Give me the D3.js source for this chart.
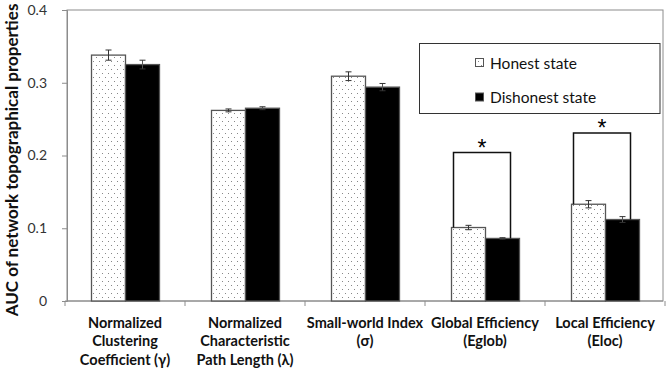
<!DOCTYPE html>
<html>
<head>
<meta charset="utf-8">
<script src="https://cdn.jsdelivr.net/npm/d3@7/dist/d3.min.js"></script>
<style>
  html, body { margin: 0; padding: 0; background: #fff; }
  svg { display: block; }
</style>
</head>
<body>
<svg id="chart"></svg>
<script>
// categories (multi-line labels)
const categories = [
  ["Normalized", "Clustering", "Coefficient (\u03b3)"],
  ["Normalized", "Characteristic", "Path Length (\u03bb)"],
  ["Small-world Index", "(\u03c3)"],
  ["Global Efficiency", "(Eglob)"],
  ["Local Efficiency", "(Eloc)"]
];
const seriesNames = ["Honest state", "Dishonest state"];
const honest = [0.338, 0.262, 0.309, 0.101, 0.133];
const honestErr = [0.007, 0.002, 0.006, 0.003, 0.005];
const dishonest = [0.325, 0.265, 0.294, 0.086, 0.112];
const dishonestErr = [0.006, 0.002, 0.005, 0.001, 0.004];
// significance brackets: category index and bracket height
const sigIdx = [3, 4];
const sigLevel = [0.204, 0.231];
const yTicks = [0, 0.1, 0.2, 0.3, 0.4];

const W = 666, H = 368;
const margin = { left: 67, right: 3, top: 10, bottom: 67 };
const font = "Lato, 'Open Sans', sans-serif";

const svg = d3.select("#chart").attr("width", W).attr("height", H);

const defs = svg.append("defs");
const pat = defs.append("pattern")
  .attr("id", "dots")
  .attr("patternUnits", "userSpaceOnUse")
  .attr("width", 6).attr("height", 8);
pat.append("rect").attr("width", 6).attr("height", 8).attr("fill", "#fff");
pat.append("rect").attr("x", 1).attr("y", 1).attr("width", 1).attr("height", 1).attr("fill", "#888");
pat.append("rect").attr("x", 4).attr("y", 5).attr("width", 1).attr("height", 1).attr("fill", "#888");

const x = d3.scaleBand()
  .domain(d3.range(categories.length))
  .range([margin.left - 2, W - 1])
  .paddingInner(0)
  .paddingOuter(0);

const y = d3.scaleLinear().domain([0, 0.4]).range([H - margin.bottom, margin.top]);

const inner = d3.scaleBand().domain([0, 1]).range([26.5, 94.5]);

const g = svg.append("g");

// plot frame
g.append("rect")
  .attr("x", margin.left).attr("y", y(0.4))
  .attr("width", W - margin.right - margin.left)
  .attr("height", y(0) - y(0.4))
  .attr("fill", "none").attr("stroke", "#8c8c8c").attr("stroke-width", 1);

// y axis
const yAxis = g.append("g")
  .attr("transform", `translate(${margin.left},0)`)
  .call(d3.axisLeft(y).tickValues(yTicks).tickSize(5).tickPadding(15)
    .tickFormat(d => d === 0 ? "0" : d3.format(".1f")(d)));
yAxis.select(".domain").attr("stroke", "#8c8c8c");
yAxis.selectAll(".tick line").attr("stroke", "#8c8c8c");
yAxis.selectAll(".tick text")
  .attr("font-family", font).attr("font-size", 14).attr("fill", "#333");

// x axis (category boundary ticks)
const xAxisG = g.append("g").attr("transform", `translate(0,${y(0)})`);
xAxisG.append("line")
  .attr("x1", margin.left - 2).attr("x2", W - margin.right)
  .attr("stroke", "#8c8c8c");
xAxisG.selectAll("line.tk")
  .data(d3.range(categories.length + 1))
  .join("line").attr("class", "tk")
  .attr("x1", d => d < categories.length ? x(d) : x(d - 1) + x.bandwidth())
  .attr("x2", d => d < categories.length ? x(d) : x(d - 1) + x.bandwidth())
  .attr("y1", 0).attr("y2", 5)
  .attr("stroke", "#8c8c8c");

// category labels
const lab = g.append("g").selectAll("text")
  .data(categories)
  .join("text")
  .attr("text-anchor", "middle")
  .attr("font-family", font).attr("font-weight", "bold")
  .attr("font-size", 14.5).attr("fill", "#111")
  .attr("transform", (d, i) => `translate(${x(i) + x.bandwidth() / 2},${y(0) + 26.5})`);
lab.selectAll("tspan")
  .data(d => d)
  .join("tspan")
  .attr("x", 0)
  .attr("y", (d, i) => i * 18.5)
  .text(d => d);

// bars
const groups = g.append("g").selectAll("g")
  .data(categories.map((c, i) => i))
  .join("g")
  .attr("transform", i => `translate(${x(i)},0)`);

const series = [
  { vals: honest, errs: honestErr, fill: "url(#dots)" },
  { vals: dishonest, errs: dishonestErr, fill: "#000" }
];

series.forEach((s, si) => {
  groups.append("rect")
    .attr("x", inner(si))
    .attr("y", i => y(s.vals[i]))
    .attr("width", inner.bandwidth())
    .attr("height", i => y(0) - y(s.vals[i]))
    .attr("fill", s.fill)
    .attr("stroke", "#555")
    .attr("stroke-width", 1.3);

  // error bars
  const eb = groups.append("g").attr("stroke", "#333").attr("stroke-width", 1);
  eb.append("line")
    .attr("x1", inner(si) + inner.bandwidth() / 2)
    .attr("x2", inner(si) + inner.bandwidth() / 2)
    .attr("y1", i => y(s.vals[i] - s.errs[i]))
    .attr("y2", i => y(s.vals[i] + s.errs[i]))
    .attr("stroke", si === 1 ? "#555" : "#333");
  [1, -1].forEach(sign => {
    eb.append("line")
      .attr("x1", inner(si) + inner.bandwidth() / 2 - 3)
      .attr("x2", inner(si) + inner.bandwidth() / 2 + 3)
      .attr("y1", i => y(s.vals[i] + sign * s.errs[i]))
      .attr("y2", i => y(s.vals[i] + sign * s.errs[i]));
  });
});

// significance brackets
sigIdx.forEach((ci, k) => {
  const x0 = x(ci) + inner(0) + 2;
  const x1 = x(ci) + inner(1) + inner.bandwidth() - 9;
  const top = y(sigLevel[k]);
  g.append("path")
    .attr("d", `M${x0},${y(honest[ci])}V${top}H${x1}V${y(dishonest[ci])}`)
    .attr("fill", "none").attr("stroke", "#111").attr("stroke-width", 1.5);
  g.append("text")
    .attr("x", (x0 + x1) / 2).attr("y", top + 3.5)
    .attr("text-anchor", "middle")
    .attr("font-family", "'Liberation Sans', Arial, sans-serif").attr("font-size", 23).attr("fill", "#000")
    .text("*");
});

// legend
const leg = g.append("g");
leg.append("rect")
  .attr("x", 419.5).attr("y", 43.5).attr("width", 240.5).attr("height", 70)
  .attr("fill", "#fff").attr("stroke", "#333").attr("stroke-width", 1);
seriesNames.forEach((name, i) => {
  const cy = 63 + i * 34.5;
  leg.append("rect")
    .attr("x", 475.5).attr("y", cy - 4.5).attr("width", 8).attr("height", 8)
    .attr("fill", i === 0 ? "url(#dots)" : "#000")
    .attr("stroke", "#555").attr("stroke-width", 1);
  leg.append("text")
    .attr("x", 490).attr("y", cy + 5.5)
    .attr("font-family", font).attr("font-size", 15.5).attr("fill", "#111")
    .text(name);
});

// y axis title
svg.append("text")
  .attr("transform", `translate(18,160) rotate(-90)`)
  .attr("text-anchor", "middle")
  .attr("font-family", font).attr("font-weight", "bold")
  .attr("font-size", 17).attr("fill", "#111")
  .text("AUC of network topographical properties");
</script>
</body>
</html>
